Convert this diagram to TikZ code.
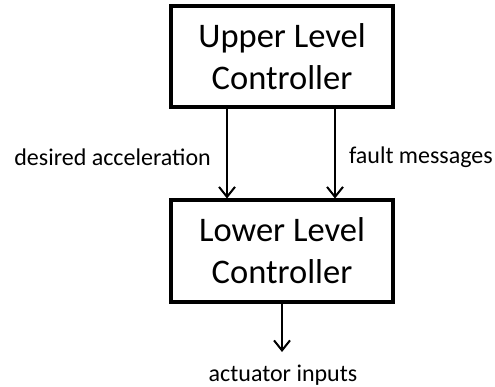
\documentclass[tikz,border=0pt]{standalone}
\usepackage{fontspec}
\setmainfont{Carlito}
\usetikzlibrary{arrows.meta}
\begin{document}
\begin{tikzpicture}[x=1pt,y=-1pt,
  ctrlbox/.style={draw, line width=4pt, minimum width=222pt, minimum height=101pt,
    align=center, font=\fontsize{34.5}{42}\selectfont, inner sep=0pt},
  arr/.style={line width=2pt, -{Straight Barb[length=10pt,width=16pt,line width=2pt]}},
  lbl/.style={font=\fontsize{24}{28}\selectfont, inner sep=0pt}]
  \useasboundingbox (0,0) rectangle (495,387);

  \node[ctrlbox] (upper) at (282,57) {Upper Level\\Controller};
  \node[ctrlbox] (lower) at (282,251) {Lower Level\\Controller};

  % two command lines from the upper to the lower controller
  \draw[arr] ([xshift=-55pt]upper.south) -- ([xshift=-55pt]lower.north);
  \draw[arr] ([xshift=53pt]upper.south) -- ([xshift=53pt]lower.north);

  % output of the lower controller
  \coordinate (out) at (282,352);
  \draw[arr] (lower.south) -- (out);

  \node[lbl, anchor=east] (acc) at (211,157) {desired acceleration};
  \node[lbl, anchor=east] (fault) at (493,157) {fault messages};
  \node[lbl] (act) at (283,375) {actuator inputs};
\end{tikzpicture}
\end{document}
